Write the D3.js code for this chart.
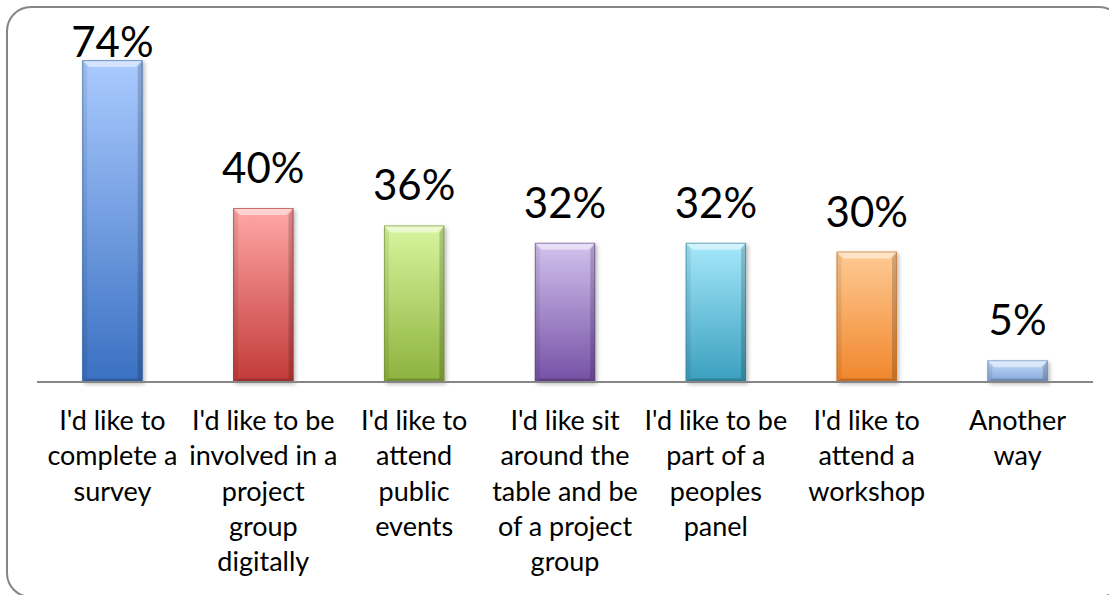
<!DOCTYPE html>
<html>
<head>
<meta charset="utf-8">
<script src="https://cdn.jsdelivr.net/npm/d3@7"></script>
<style>
  html, body { margin: 0; padding: 0; background: #fff; }
  svg { display: block; }
  text { font-family: Lato, "Open Sans", sans-serif; fill: #000; }
</style>
</head>
<body>
<svg id="chart" width="1109" height="595"></svg>
<script>
// Survey answers: how respondents would like to take part
const categories = [
  "I'd like to\ncomplete a\nsurvey",
  "I'd like to be\ninvolved in a\nproject\ngroup\ndigitally",
  "I'd like to\nattend\npublic\nevents",
  "I'd like sit\naround the\ntable and be\nof a project\ngroup",
  "I'd like to be\npart of a\npeoples\npanel",
  "I'd like to\nattend a\nworkshop",
  "Another\nway"
];
const values = [0.74, 0.40, 0.36, 0.32, 0.32, 0.30, 0.05];
const valueLabels = ["74%", "40%", "36%", "32%", "32%", "30%", "5%"];

// Light (top) and dark (bottom) shades for each bar's fill
const barTop =    ["#abcbff", "#ffa8a6", "#d8f59e", "#d2c2ee", "#a6e8fb", "#ffcb94", "#c3daf9"];
const barBottom = ["#3a70c2", "#c23a39", "#8db23e", "#7550a5", "#3a9fbe", "#f0862c", "#86a9da"];
const barEdge =   ["#2f5c9e", "#9a2e2d", "#6f8c30", "#5d4084", "#2d7f99", "#c76a1e", "#5f82b5"];

const svg = d3.select("#chart");
const baseY = 382;

const x = d3.scaleBand()
  .domain(d3.range(categories.length))
  .range([37, 1093])
  .paddingInner(0.6)
  .paddingOuter(0.3);

const y = d3.scaleLinear()
  .domain([0, 0.8])
  .range([baseY, baseY - 0.8 * 435]);

const defs = svg.append("defs");

// soft drop shadow for the bars
const shadow = defs.append("filter").attr("id", "barShadow")
  .attr("x", "-20%").attr("y", "-20%").attr("width", "140%").attr("height", "140%");
shadow.append("feGaussianBlur").attr("stdDeviation", 2);

categories.forEach((c, i) => {
  const g = defs.append("linearGradient")
    .attr("id", "grad" + i)
    .attr("x1", 0).attr("y1", 0).attr("x2", 0).attr("y2", 1);
  g.append("stop").attr("offset", "0%").attr("stop-color", barTop[i]);
  g.append("stop").attr("offset", "100%").attr("stop-color", barBottom[i]);
});

// chart frame with rounded corners
svg.append("rect")
  .attr("x", 7).attr("y", 7)
  .attr("width", 1116).attr("height", 590)
  .attr("rx", 24).attr("ry", 24)
  .attr("fill", "#fff")
  .attr("stroke", "#858585")
  .attr("stroke-width", 2);

// bars with bevelled edges
const bars = svg.append("g").selectAll("g.bar")
  .data(values)
  .join("g")
  .attr("class", "bar");

const bev = 7;

bars.each(function (d, i) {
  const g = d3.select(this);
  const x0 = x(i), w = x.bandwidth();
  const y0 = y(d), h = baseY - y0;
  const b = Math.min(bev, h / 2);

  g.append("rect")
    .attr("x", x0 + 2).attr("y", y0 + 2)
    .attr("width", w).attr("height", h)
    .attr("fill", "#000").attr("opacity", 0.28)
    .attr("filter", "url(#barShadow)");

  g.append("rect")
    .attr("x", x0).attr("y", y0)
    .attr("width", w).attr("height", h)
    .attr("fill", `url(#grad${i})`);

  // top bevel highlight
  g.append("path")
    .attr("d", `M${x0},${y0}L${x0 + w},${y0}L${x0 + w - b},${y0 + b}L${x0 + b},${y0 + b}Z`)
    .attr("fill", "#fff").attr("opacity", 0.5);
  // left bevel
  g.append("path")
    .attr("d", `M${x0},${y0}L${x0 + b * 0.7},${y0 + b}L${x0 + b * 0.7},${y0 + h - b * 0.5}L${x0},${y0 + h}Z`)
    .attr("fill", "#000").attr("opacity", 0.08);
  // right bevel
  g.append("path")
    .attr("d", `M${x0 + w},${y0}L${x0 + w - b * 0.7},${y0 + b}L${x0 + w - b * 0.7},${y0 + h - b * 0.5}L${x0 + w},${y0 + h}Z`)
    .attr("fill", "#000").attr("opacity", 0.18);
  // bottom bevel
  g.append("path")
    .attr("d", `M${x0},${y0 + h}L${x0 + b * 0.7},${y0 + h - b * 0.5}L${x0 + w - b * 0.7},${y0 + h - b * 0.5}L${x0 + w},${y0 + h}Z`)
    .attr("fill", "#000").attr("opacity", 0.2);

  g.append("rect")
    .attr("x", x0 + 0.5).attr("y", y0 + 0.5)
    .attr("width", w - 1).attr("height", h - 1)
    .attr("fill", "none")
    .attr("stroke", barEdge[i]).attr("stroke-opacity", 0.6).attr("stroke-width", 1);
});

// category axis
const axis = svg.append("g")
  .attr("transform", `translate(0,${baseY})`)
  .call(d3.axisBottom(x).tickSize(0).tickFormat(""));
axis.select(".domain")
  .attr("stroke", "#868686")
  .attr("stroke-width", 2)
  .attr("d", "M37,0H1093");

axis.selectAll(".tick text").remove();
axis.selectAll(".tick").each(function (d) {
  const t = d3.select(this).append("text")
    .attr("text-anchor", "middle")
    .attr("font-size", 27)
    .attr("y", 48);
  categories[d].split("\n").forEach((line, k) => {
    t.append("tspan").attr("x", 0).attr("dy", k === 0 ? 0 : 35.3).text(line);
  });
});

// value labels above the bars, kept inside the chart area
svg.append("g").selectAll("text")
  .data(values)
  .join("text")
  .attr("x", (d, i) => x(i) + x.bandwidth() / 2)
  .attr("y", d => Math.max(y(d) - 25, 57))
  .attr("text-anchor", "middle")
  .attr("font-size", 42)
  .text((d, i) => valueLabels[i]);
</script>
</body>
</html>
